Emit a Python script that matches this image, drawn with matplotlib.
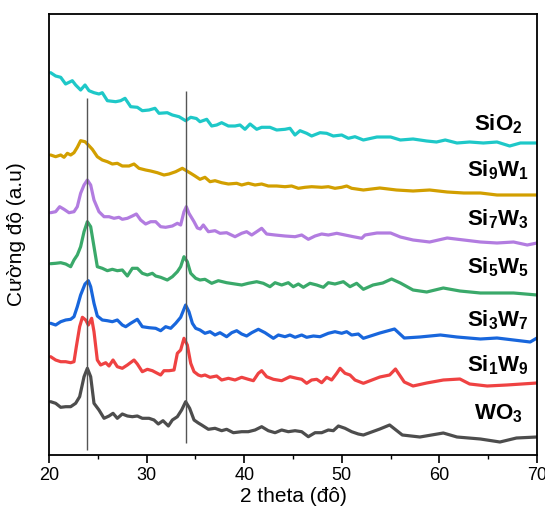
import matplotlib
matplotlib.use("Agg")
import matplotlib.pyplot as plt

plt.rcParams['font.family'] = ['Liberation Sans', 'DejaVu Sans']
plt.rcParams['mathtext.fontset'] = 'custom'
plt.rcParams['mathtext.rm'] = 'Liberation Sans'
plt.rcParams['mathtext.bf'] = 'Liberation Sans:bold'

# ---- data (2 theta, offset intensity) ----
x_sio2 = [20.17, 20.68, 21.2, 21.7, 22.39, 22.73, 23.24, 23.69, 24.1, 24.61, 25.12, 25.46, 25.98, 26.83,
          27.34, 27.79, 28.37, 29.05, 29.56, 30.25, 30.86, 31.27, 32.12, 32.64, 33.32, 34.0, 34.52,
          35.1, 35.47, 36.16, 36.67, 37.18, 37.69, 38.38, 39.06, 39.57, 40.08, 40.6, 41.28, 41.79, 42.64,
          43.33, 44.18, 44.69, 45.2, 45.72, 46.4, 46.91, 47.77, 48.45, 49.13, 49.99, 50.67, 51.35, 52.21,
          53.6, 55.0, 56.0, 57.3, 58.7, 59.7, 60.6, 61.8, 63.1, 64.5, 65.9, 67.2, 68.3, 70.0]
y_sio2 = [382.3, 379, 377.7, 371, 374.3, 370, 365, 370, 364.3, 362.3, 361, 362.3, 354.3, 353.3,
          354.3, 356.7, 348.3, 347.7, 344.3, 345, 346.7, 341.7, 342.3, 340, 338.3, 334.3, 337.7,
          336.5, 333.3, 335.7, 329, 330, 332.3, 329, 329, 330, 325.7, 331, 325.7, 327.7, 327.7,
          325, 325.7, 326.7, 320, 324.3, 321.7, 319, 322.3, 321.7, 319, 320, 316.7, 318.3, 315,
          318, 318, 315, 316, 314, 313, 315, 312, 313, 312, 313, 309, 312, 312]

x_si9w1 = [20.17, 20.68, 21.2, 21.54, 21.88, 22.22, 22.56, 22.9, 23.24, 23.69, 24.03, 24.44, 24.95,
           25.46, 25.98, 26.49, 27.0, 27.51, 28.2, 28.71, 29.22, 29.9, 30.42, 31.1, 31.78, 32.3, 32.98,
           33.66, 34.07, 34.52, 34.96, 35.47, 35.98, 36.5, 37.01, 37.69, 38.38, 39.23, 39.74, 40.42,
           41.11, 41.79, 42.47, 43.33, 44.18, 44.86, 45.55, 46.23, 46.91, 47.94, 48.62, 49.3, 49.99,
           50.5, 51.01, 52.21, 53.9, 55.6, 57.3, 59.0, 60.8, 62.5, 64.2, 65.9, 67.6, 70.0]
y_si9w1 = [300, 298.3, 300, 297.7, 301.7, 300, 302.3, 307.7, 314.3, 313.3, 310, 305.7, 298.3,
           295, 293.3, 291, 291.7, 289, 289, 291, 286.7, 285, 284, 282.3, 280, 281, 283.3,
           286.7, 284.3, 281.7, 279, 275.7, 277.7, 273.3, 274.3, 272.3, 271, 271.7, 270, 271.7,
           270, 271, 269, 269, 268.3, 269, 266.7, 267.7, 268.3, 267.7, 268.3, 266.7, 267.7,
           269, 266.7, 265, 267, 265, 264, 265, 263, 262, 262, 260, 260, 260]

x_si7w3 = [20.17, 20.68, 21.09, 21.54, 22.05, 22.56, 22.9, 23.24, 23.59, 23.93, 24.27, 24.61, 25.12,
           25.64, 26.15, 26.66, 27.17, 27.51, 28.03, 28.54, 28.95, 29.39, 29.9, 30.42, 30.93, 31.44,
           31.95, 32.64, 33.15, 33.49, 33.83, 34.07, 34.34, 34.86, 35.2, 35.5, 35.81, 36.33, 37.01,
           37.52, 38.2, 39.06, 39.74, 40.25, 40.77, 41.28, 41.79, 42.3, 43.16, 44.18, 45.21, 45.89,
           46.57, 47.26, 47.94, 48.62, 49.48, 50.33, 51.18, 52.04, 52.38, 53.6, 55.0, 56.0, 57.3,
           59.0, 60.8, 62.5, 64.2, 65.9, 67.6, 69.0, 70.0]
y_si7w3 = [242.3, 243.3, 248.3, 245.7, 242.3, 243.3, 248.3, 261.7, 270, 275, 270, 255, 243.3,
           238.3, 238.3, 236.7, 237.7, 235.7, 236.7, 239, 241, 235, 231, 233.3, 233.3, 228.3,
           227.7, 229, 231.7, 230, 243.3, 248.3, 241.7, 233.3, 227, 226, 230, 223.3, 224.3,
           221.7, 222.3, 218.3, 221.7, 223.3, 220, 223.3, 226.7, 221, 220, 219, 218.3, 220,
           215.7, 219, 221, 220, 221.7, 220, 218.3, 216.7, 220, 222, 222, 218, 215,
           213, 217, 215, 213, 212, 213, 210, 212]

x_si5w5 = [20.17, 20.68, 21.2, 21.71, 22.22, 22.56, 22.9, 23.24, 23.59, 23.93, 24.27, 24.61, 24.95,
           25.46, 25.98, 26.49, 27.0, 27.51, 28.03, 28.54, 29.05, 29.56, 30.08, 30.59, 30.93, 31.44,
           32.12, 32.64, 33.15, 33.49, 33.83, 34.17, 34.52, 35.03, 35.47, 35.98, 36.67, 37.35, 38.2,
           39.06, 39.74, 40.42, 41.28, 41.96, 42.64, 43.16, 43.84, 44.52, 45.03, 45.55, 46.06, 46.74,
           47.43, 48.11, 48.62, 49.3, 50.16, 50.84, 51.52, 52.21, 53.2, 54.2, 55.1, 56.0, 57.3, 58.7,
           60.4, 62.1, 64.2, 65.9, 67.6, 70.0]
y_si5w5 = [191.3, 191.7, 192.3, 191, 188.3, 195, 200, 208.3, 223.3, 233.3, 228.3, 208.3, 188.3,
           186.7, 184.3, 185.7, 184.3, 185, 179, 186.7, 186.7, 181.7, 180, 181.7, 179, 177.7,
           175, 178.3, 183.3, 188.3, 198.3, 193.3, 181.7, 176.7, 175, 175.7, 171.7, 174.3, 172.3,
           171, 170, 171.7, 173.3, 171.7, 168.3, 172.3, 170, 172.3, 168.3, 171, 167.7, 171.7,
           170, 167.7, 172.3, 171, 173.3, 168.3, 171.7, 165.7, 170, 172, 176, 172, 165, 163,
           167, 164, 162, 162, 162, 160]

x_si3w7 = [20.17, 20.68, 21.2, 21.71, 22.22, 22.56, 22.9, 23.24, 23.69, 24.03, 24.27, 24.61, 24.95,
           25.46, 25.98, 26.49, 27.0, 27.51, 27.86, 28.37, 29.05, 29.56, 30.25, 30.93, 31.44, 31.95,
           32.47, 32.98, 33.49, 34.0, 34.34, 34.69, 35.03, 35.47, 35.98, 36.5, 37.01, 37.52, 38.2,
           38.72, 39.23, 39.74, 40.25, 40.77, 41.45, 42.13, 42.99, 43.5, 44.18, 44.69, 45.21, 45.89,
           46.4, 47.09, 47.77, 48.62, 49.3, 49.99, 50.5, 51.01, 51.69, 52.21, 53.9, 55.4, 56.4,
           58.0, 60.1, 61.8, 64.2, 65.9, 67.6, 69.3, 70.0]
y_si3w7 = [131.7, 130, 133.3, 135, 135.7, 138.3, 148.3, 160, 171, 174.3, 168.3, 151.7, 139,
           135, 134.3, 133.3, 135, 130, 128.3, 131.7, 135.7, 128.3, 127.3, 126.7, 124.3, 128.3,
           126.7, 131.7, 137.7, 150, 143.3, 131.7, 126.7, 125, 121.7, 123.3, 120, 122.3, 118.3,
           122.3, 124.3, 121, 119, 122.3, 125.7, 122.3, 116.7, 120, 118.3, 120, 117.7, 120,
           117.7, 119, 118.3, 121.7, 123.3, 121.7, 123.3, 120, 121, 116.7, 122, 126, 117,
           118, 120, 118, 116, 117, 115, 113, 117]

x_si1w9 = [20.17, 20.68, 21.2, 21.71, 22.22, 22.56, 22.8, 23.14, 23.42, 23.76, 24.03, 24.37, 24.61,
           24.95, 25.29, 25.81, 26.15, 26.56, 27.0, 27.51, 28.03, 28.71, 29.05, 29.56, 30.08, 30.59,
           31.1, 31.44, 31.78, 32.3, 32.81, 33.15, 33.49, 33.83, 34.17, 34.52, 34.86, 35.3, 35.6,
           35.98, 36.5, 37.18, 37.69, 38.38, 39.06, 39.74, 40.42, 40.94, 41.45, 41.79, 42.3, 42.99,
           43.84, 44.69, 45.38, 45.89, 46.4, 46.91, 47.43, 47.94, 48.45, 48.96, 49.48, 49.82, 50.33,
           50.84, 51.35, 52.21, 53.9, 54.9, 55.5, 56.4, 57.3, 58.7, 60.4, 62.1, 63.1, 64.9, 66.9, 70.0]
y_si1w9 = [98.3, 95, 93.3, 93.3, 92.3, 93.3, 108.3, 128.3, 137.7, 135, 130, 136.7, 123.3,
           95, 90, 92.3, 89, 95, 88.3, 86.7, 90, 95, 91, 83.3, 85.7, 84.3,
           81.7, 80, 84.3, 84.3, 85, 101.7, 105, 116.7, 110, 91.7, 83.3, 80, 79,
           80, 77.7, 79, 75, 76.7, 75, 77.7, 75.7, 74.3, 81.7, 84.3, 78.3, 75.7,
           74.3, 78.3, 76.7, 75.7, 71.7, 75, 75.7, 72.3, 77.7, 75, 81.7, 86.7, 81.7,
           80, 75, 71.7, 78, 80, 86, 73, 69, 72, 75, 76, 71, 69, 70, 72]

x_wo3 = [20.17, 20.68, 21.2, 21.71, 22.22, 22.73, 23.14, 23.59, 23.93, 24.27, 24.61, 25.12, 25.64,
         26.15, 26.56, 27.0, 27.51, 28.03, 28.54, 29.05, 29.56, 30.25, 30.76, 31.2, 31.68, 32.23,
         32.64, 33.15, 33.59, 34.0, 34.41, 34.86, 35.3, 35.64, 36.33, 37.01, 37.69, 38.2, 38.89,
         39.74, 40.42, 41.11, 41.79, 42.47, 43.16, 43.84, 44.52, 45.21, 45.89, 46.57, 47.26, 47.94,
         48.62, 49.13, 49.65, 50.33, 51.01, 51.69, 52.21, 53.9, 54.9, 56.2, 58.0, 60.4, 61.8,
         64.2, 66.2, 67.9, 70.0]
y_wo3 = [53.3, 51.7, 47.7, 48.3, 48.3, 51.7, 58.3, 78.3, 86.7, 78.3, 51.7, 45, 36.7,
         39, 41.7, 36.7, 41, 39, 38.3, 39, 36.7, 36.7, 35, 31, 34.3, 29,
         35, 38.3, 45, 53.3, 46.7, 35, 32, 30, 25.7, 26.7, 24.3, 25.7, 22.3,
         23.3, 23.3, 25, 28.3, 24.3, 22.3, 25, 23.3, 24.3, 23.3, 18.3, 22.3, 22.3,
         25, 24.3, 29, 26.7, 23.3, 21, 20, 26, 30, 20, 18, 22, 18,
         16, 13, 17, 18]

labels = [r'$\mathbf{SiO_2}$', r'$\mathbf{Si_9W_1}$', r'$\mathbf{Si_7W_3}$', r'$\mathbf{Si_5W_5}$',
          r'$\mathbf{Si_3W_7}$', r'$\mathbf{Si_1W_9}$', r'$\mathbf{WO_3}$']
label_y = [331, 285, 236, 188, 135, 90, 41]
colors = ['#1ec8c8', '#d29f00', '#b27ce0', '#3aa96a', '#1866dc', '#ef4242', '#4d4d4d']
peak_lines_x = [23.9, 34.0]
peak_lines_ymin = [5, 12]
peak_lines_ymax = [357, 364]

series = [(x_sio2, y_sio2), (x_si9w1, y_si9w1), (x_si7w3, y_si7w3), (x_si5w5, y_si5w5),
          (x_si3w7, y_si3w7), (x_si1w9, y_si1w9), (x_wo3, y_wo3)]

fig = plt.figure(figsize=(5.45, 5.15), dpi=100)
ax = fig.add_axes([49/545, 60/515, 488/545, 441/515])

for (xs, ys), c in zip(series, colors):
    ax.plot(xs, ys, color=c, lw=2.3, solid_joinstyle='round', solid_capstyle='round')

for xv, y0, y1 in zip(peak_lines_x, peak_lines_ymin, peak_lines_ymax):
    ax.vlines(xv, y0, y1, color='#555555', lw=1.0, zorder=5)

for lab, ly in zip(labels, label_y):
    ax.text(66.0, ly, lab, ha='center', va='center', fontsize=16, color='black')

ax.set_xlim(20, 70)
ax.set_ylim(0, 441)
ax.set_yticks([])
ax.set_xticks([20, 30, 40, 50, 60, 70])
ax.set_xticks([25, 35, 45, 55, 65], minor=True)
ax.tick_params(axis='x', which='major', direction='out', length=6, width=1.2, labelsize=13, pad=3)
ax.tick_params(axis='x', which='minor', direction='out', length=3, width=1.0)
for s in ax.spines.values():
    s.set_linewidth(1.3)
ax.set_xlabel('2 theta (đô)', fontsize=15, labelpad=2)
ax.set_ylabel('Cường độ (a.u)', fontsize=15)
ax.yaxis.set_label_coords(-0.047, 0.5)

fig.savefig('out.png', dpi=100)
